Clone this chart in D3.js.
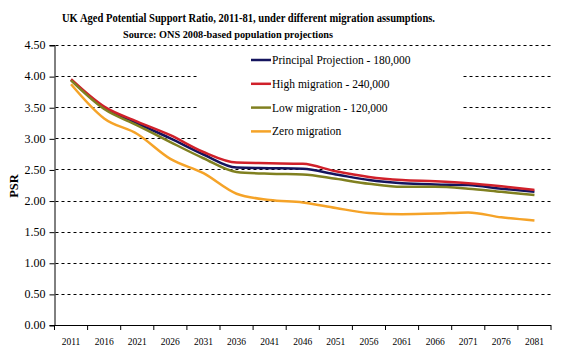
<!DOCTYPE html>
<html><head><meta charset="utf-8">
<script src="https://cdn.jsdelivr.net/npm/d3@7"></script>
<style>body{margin:0;background:#fff}svg{display:block}</style>
</head><body>
<svg id="c" width="561" height="353"></svg>
<script>
const years = ["2011","2016","2021","2026","2031","2036","2041","2046","2051","2056","2061","2066","2071","2076","2081"];
const principal = [3.94,3.49,3.24,3.00,2.74,2.53,2.52,2.51,2.42,2.33,2.28,2.26,2.25,2.19,2.14];
const high      = [3.95,3.51,3.27,3.05,2.78,2.61,2.60,2.59,2.47,2.38,2.33,2.31,2.28,2.23,2.17];
const low       = [3.93,3.47,3.21,2.94,2.68,2.46,2.43,2.42,2.35,2.27,2.22,2.22,2.19,2.14,2.09];
const zero      = [3.87,3.32,3.07,2.67,2.44,2.11,2.01,1.97,1.88,1.80,1.78,1.79,1.81,1.73,1.68];
const seriesNames = ["Principal Projection - 180,000","High migration - 240,000","Low migration - 120,000","Zero migration"];
const seriesColors = ["#14145e","#d0202a","#808020","#f5a328"];
const yTicks = [0,0.5,1,1.5,2,2.5,3,3.5,4,4.5];

const svg = d3.select("#c");
const L = 54.5, R = 551, T = 45, B = 325;
const x = d3.scaleBand().domain(years).range([L, R]).padding(0);
const y = d3.scaleLinear().domain([0, 4.5]).range([B, T]);
const serif = "'Liberation Serif','Times New Roman',serif";

// gridlines (dashes drawn as small rects, 3px on / 3px off)
const gridG = svg.append("g").attr("class", "grid");
const dashStarts = d3.range(L + 1, R, 6);
yTicks.filter(d => d > 0).forEach(d => {
  gridG.selectAll(null).data(dashStarts).join("rect")
    .attr("x", s => s).attr("y", Math.round(y(d)))
    .attr("width", s => Math.min(3, R - s)).attr("height", 1)
    .attr("fill", "#000");
});

// legend background (white box hiding gridlines)
svg.append("rect").attr("x", 197).attr("y", 50).attr("width", 266).attr("height", 96).attr("fill", "#fff");

// y axis
const ya = svg.append("g").attr("transform", `translate(${L},0)`)
  .call(d3.axisLeft(y).tickValues(yTicks).tickFormat(d3.format(".2f")).tickSize(5).tickPadding(4));
ya.select(".domain").attr("stroke", "#000");
ya.selectAll(".tick line").attr("stroke", "#000").attr("transform", "translate(0,0.5)");
ya.selectAll("text").attr("font-family", serif).attr("font-size", "12px").attr("fill", "#000");

// x axis
const xa = svg.append("g").attr("transform", `translate(0,${B + 0.5})`)
  .call(d3.axisBottom(x).tickSize(0).tickPadding(13));
xa.select(".domain").attr("stroke", "#000").attr("d", `M${L},0H${R}`);
xa.selectAll("text").attr("font-family", serif).attr("font-size", "9.5px").attr("fill", "#000");
const bounds = years.map(d => x(d)).concat([x(years[years.length - 1]) + x.bandwidth()]);
svg.append("g").selectAll("line").data(bounds).join("line")
  .attr("x1", d => d).attr("x2", d => d).attr("y1", B).attr("y2", B + 5)
  .attr("stroke", "#000");

// lines
const line = d3.line().x((d, i) => x(years[i]) + x.bandwidth() / 2).y(d => y(d)).curve(d3.curveMonotoneX);
const allSeries = [principal, high, low, zero];
svg.append("g").selectAll("path").data(allSeries).join("path")
  .attr("d", d => line(d)).attr("fill", "none")
  .attr("stroke", (d, i) => seriesColors[i]).attr("stroke-width", 2.5)
  .attr("stroke-linejoin", "round");

// legend
const lg = svg.append("g");
seriesNames.forEach((n, i) => {
  const yy = 60 + i * 23.8;
  lg.append("line").attr("x1", 251).attr("x2", 271).attr("y1", yy).attr("y2", yy)
    .attr("stroke", seriesColors[i]).attr("stroke-width", 2.5);
  lg.append("text").attr("x", 272).attr("y", yy + 4).attr("font-family", serif)
    .attr("font-size", "11.5px").attr("fill", "#000").text(n);
});

// titles
svg.append("text").attr("x", 62).attr("y", 22).attr("font-family", serif).attr("font-weight", "bold")
  .attr("font-size", "13px").attr("textLength", 373).attr("lengthAdjust", "spacingAndGlyphs")
  .text("UK Aged Potential Support Ratio,  2011-81, under different migration assumptions.");
svg.append("text").attr("x", 123).attr("y", 37.5).attr("font-family", serif).attr("font-weight", "bold")
  .attr("font-size", "9.5px").attr("textLength", 210).attr("lengthAdjust", "spacingAndGlyphs")
  .text("Source: ONS 2008-based population projections");
svg.append("text").attr("transform", "translate(18,186) rotate(-90)").attr("text-anchor", "middle")
  .attr("font-family", serif).attr("font-weight", "bold").attr("font-size", "12.5px").text("PSR");
</script>
</body></html>
